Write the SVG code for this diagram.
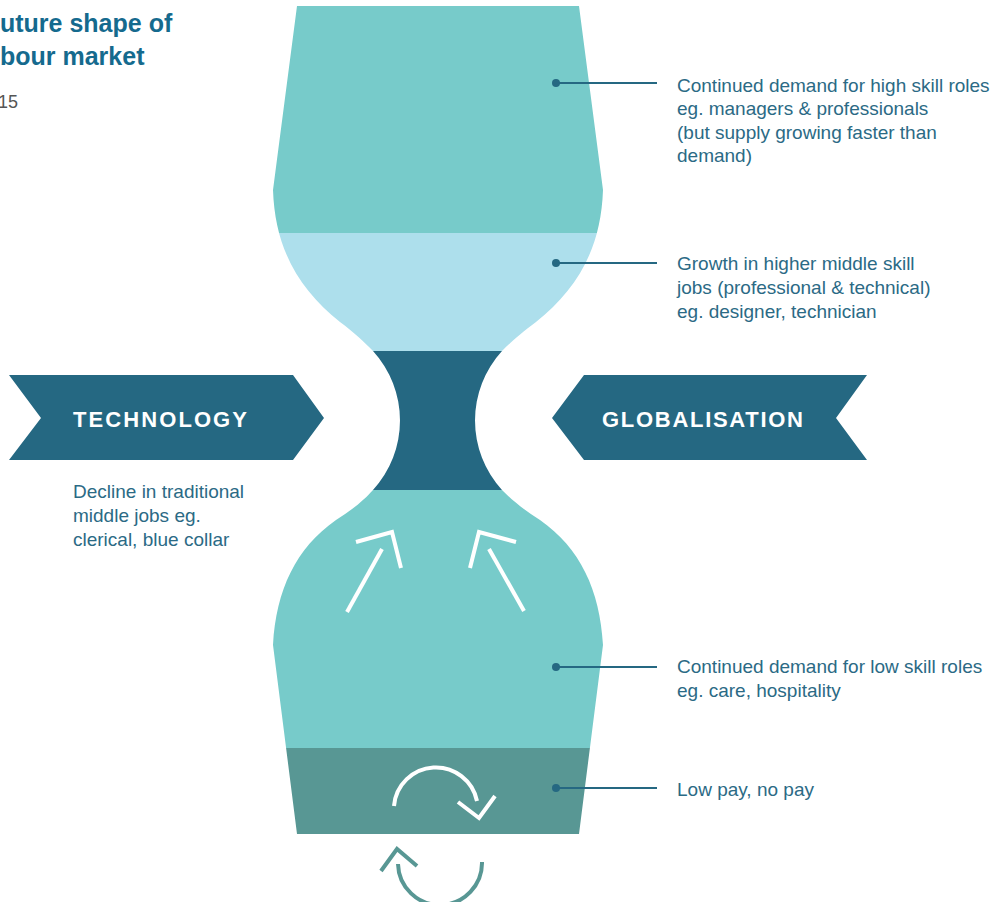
<svg xmlns="http://www.w3.org/2000/svg" width="1003" height="902" viewBox="0 0 1003 902">
<defs>
<style>
.lbl{font-family:"Liberation Sans",Arial,sans-serif;font-size:19px;fill:#2b6a85;}
.ban{font-family:"Liberation Sans",Arial,sans-serif;font-size:22px;font-weight:bold;fill:#ffffff;}
.ttl{font-family:"Liberation Sans",Arial,sans-serif;font-size:25px;font-weight:bold;fill:#156a8e;}
.lead{stroke:#256882;stroke-width:2;fill:none;}
.dot{fill:#256882;}
.wht{stroke:#ffffff;stroke-width:4;fill:none;}
.cyc{stroke:#589794;stroke-width:4;fill:none;}
</style>
<clipPath id="glass">
<path d="M297,6 L579,6 L603,190 C601,250 576,290 536,322 C521,333 511,342 502,351 A103,103 0 0,0 502,490 C511,499 521,508 540,520 C580,548 600,590 603,645 L579,834 L297,834 L273,645 C276,590 296,548 336,520 C355,508 365,499 373,490 A103,103 0 0,0 373,351 C364,342 355,333 340,322 C300,290 275,250 273,190 Z"/>
</clipPath>
</defs>
<rect width="1003" height="902" fill="#ffffff"/>

<g id="title">
<text class="ttl" x="0" y="32">uture shape of</text>
<text class="ttl" x="0" y="65">bour market</text>
<text x="18" y="108" text-anchor="end" style="font-family:'Liberation Sans',Arial,sans-serif;font-size:18px;fill:#555555">15</text>
</g>

<g id="hourglass" clip-path="url(#glass)">
<rect id="band-high" x="260" y="0" width="360" height="233" fill="#77cbca"/>
<rect id="band-highmid" x="260" y="233" width="360" height="118" fill="#addfec"/>
<rect id="band-mid" x="260" y="351" width="360" height="139" fill="#256882"/>
<rect id="band-low" x="260" y="490" width="360" height="258" fill="#77cbca"/>
<rect id="band-lowpay" x="260" y="748" width="360" height="90" fill="#589794"/>
</g>

<g id="inner-arrows">
<line class="wht" x1="347" y1="612" x2="382" y2="549"/>
<polyline class="wht" points="356,542 392,532 401,568"/>
<line class="wht" x1="524" y1="611" x2="489" y2="549"/>
<polyline class="wht" points="516,542 479,532 470,568"/>
</g>

<g id="cycle-white">
<path class="wht" d="M394,806 A42,42 0 0,1 477,801"/>
<polyline class="wht" points="458,802 479,818 495,796"/>
</g>
<g id="cycle-teal">
<path class="cyc" d="M398,864 A42,42 0 0,0 482,862"/>
<polyline class="cyc" points="381,871 397,849 417,866"/>
</g>

<g id="technology">
<polygon points="9,375 293,375 324,418 293,460 9,460 41,418" fill="#256882"/>
<text class="ban" x="73" y="427" textLength="174" lengthAdjust="spacing">TECHNOLOGY</text>
<text class="lbl" x="73" y="498">Decline in traditional</text>
<text class="lbl" x="73" y="522">middle jobs eg.</text>
<text class="lbl" x="73" y="546">clerical, blue collar</text>
</g>

<g id="globalisation">
<polygon points="552,418 584,375 867,375 836,418 867,460 584,460" fill="#256882"/>
<text class="ban" x="602" y="427" textLength="201" lengthAdjust="spacing">GLOBALISATION</text>
</g>

<g id="connectors">
<line class="lead" x1="556" y1="83" x2="657" y2="83"/>
<circle class="dot" cx="556" cy="83" r="4"/>
<line class="lead" x1="556" y1="263" x2="657" y2="263"/>
<circle class="dot" cx="556" cy="263" r="4"/>
<line class="lead" x1="556" y1="667" x2="657" y2="667"/>
<circle class="dot" cx="556" cy="667" r="4"/>
<line class="lead" x1="556" y1="788" x2="657" y2="788"/>
<circle class="dot" cx="556" cy="788" r="4"/>
</g>

<g id="label-high">
<text class="lbl" x="677" y="92">Continued demand for high skill roles</text>
<text class="lbl" x="677" y="115">eg. managers &amp; professionals</text>
<text class="lbl" x="677" y="139">(but supply growing faster than</text>
<text class="lbl" x="677" y="162">demand)</text>
</g>
<g id="label-highmid">
<text class="lbl" x="677" y="270">Growth in higher middle skill</text>
<text class="lbl" x="677" y="294">jobs (professional &amp; technical)</text>
<text class="lbl" x="677" y="318">eg. designer, technician</text>
</g>
<g id="label-low">
<text class="lbl" x="677" y="673">Continued demand for low skill roles</text>
<text class="lbl" x="677" y="697">eg. care, hospitality</text>
</g>
<g id="label-lowpay">
<text class="lbl" x="677" y="796">Low pay, no pay</text>
</g>
</svg>
